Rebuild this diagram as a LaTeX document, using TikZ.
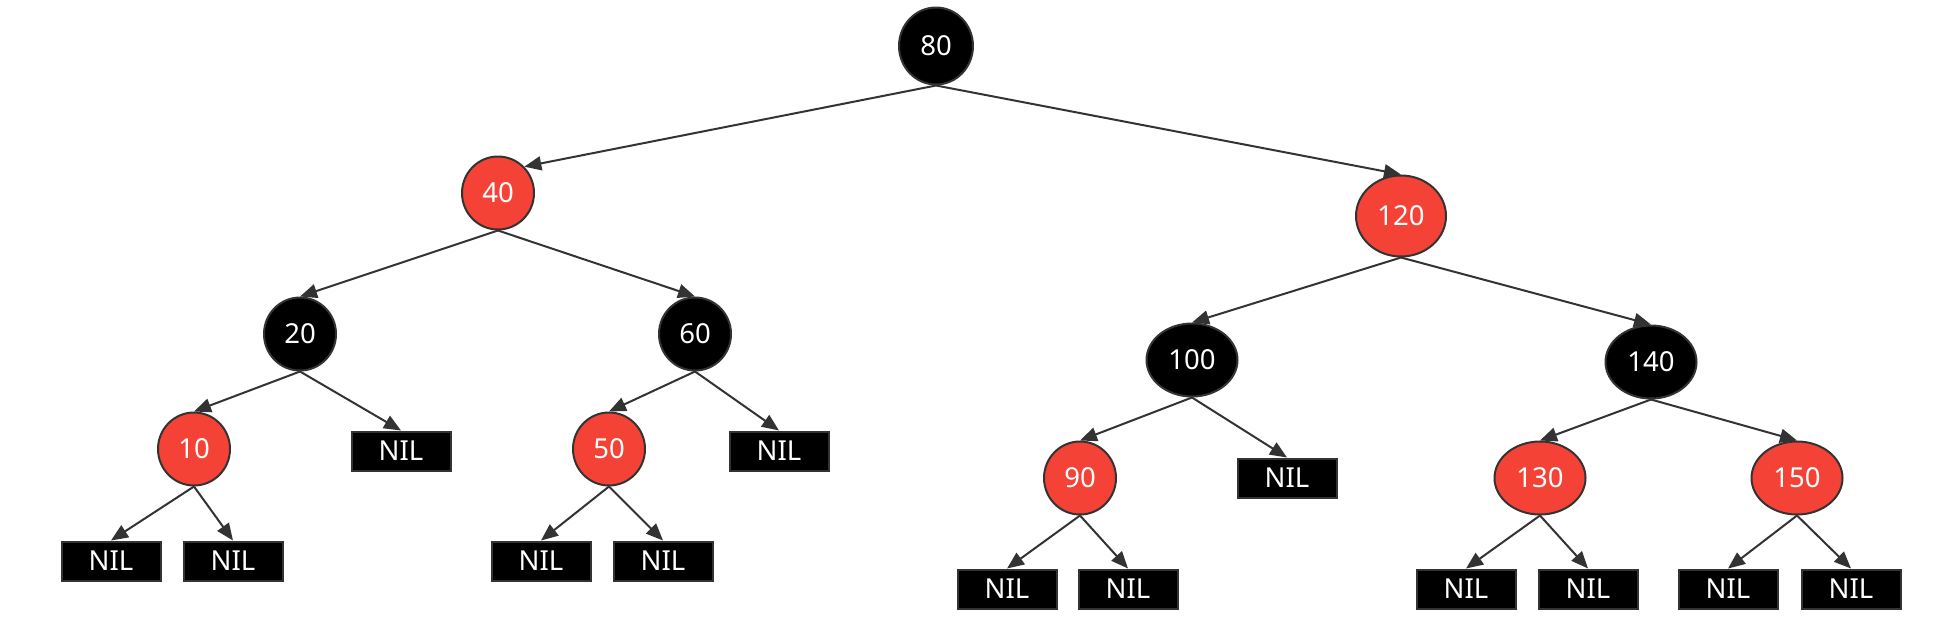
\documentclass[tikz,border=0pt]{standalone}
\usepackage{fontspec}
\setmainfont{Noto Sans}
\usetikzlibrary{arrows.meta,shapes.geometric}
\definecolor{rbred}{HTML}{F44336}
\definecolor{edgegray}{HTML}{333333}
\begin{document}
\begin{tikzpicture}[x=1pt,y=-1pt,
  base/.style={ellipse, draw=edgegray, line width=2pt, inner sep=0pt, text=white,
    font=\fontsize{27.5}{32}\selectfont, minimum width=72pt, minimum height=73pt},
  rednode/.style={base, fill=rbred},
  blknode/.style={base, fill=black},
  three/.style={minimum width=91pt, minimum height=73pt},
  nilbox/.style={rectangle, draw=edgegray, line width=2pt, fill=black, text=white,
    minimum width=99pt, minimum height=39pt, inner sep=0pt, font=\fontsize{27.5}{32}\selectfont},
  link/.style={draw=edgegray, line width=2pt, -{Triangle[length=17pt,width=14pt]}}
]
\useasboundingbox (0,0) rectangle (1939,619);

% level 0
\node[blknode, minimum width=74pt, minimum height=77pt] (n80) at (936,46) {80};
% level 1
\node[rednode] (n40) at (498,193) {40};
\node[rednode, minimum width=90pt, minimum height=81pt] (n120) at (1401,216) {120};
% level 2
\node[blknode] (n20) at (300,334) {20};
\node[blknode] (n60) at (695,334) {60};
\node[blknode, three] (n100) at (1192,360) {100};
\node[blknode, three] (n140) at (1651,362) {140};
% level 3
\node[rednode] (n10) at (194,449) {10};
\node[nilbox] (nilA) at (401,451) {NIL};
\node[rednode] (n50) at (609,449) {50};
\node[nilbox] (nilB) at (779,451) {NIL};
\node[rednode] (n90) at (1080,478) {90};
\node[nilbox] (nilC) at (1287,478) {NIL};
\node[rednode, three] (n130) at (1540,478) {130};
\node[rednode, three] (n150) at (1797,478) {150};
% level 4
\node[nilbox] (nil1) at (111,561) {NIL};
\node[nilbox] (nil2) at (233,561) {NIL};
\node[nilbox] (nil3) at (541,561) {NIL};
\node[nilbox] (nil4) at (663,561) {NIL};
\node[nilbox] (nil5) at (1007,589) {NIL};
\node[nilbox] (nil6) at (1128,589) {NIL};
\node[nilbox] (nil7) at (1466,589) {NIL};
\node[nilbox] (nil8) at (1588,589) {NIL};
\node[nilbox] (nil9) at (1728,589) {NIL};
\node[nilbox] (nil10) at (1851,589) {NIL};

% edges
\draw[link] (n80.south) -- (n40.45);
\draw[link] (n80.south) -- (n120.north);
\draw[link] (n40.south) -- (n20.north);
\draw[link] (n40.south) -- (n60.north);
\draw[link] (n120.south) -- (n100.north);
\draw[link] (n120.south) -- (n140.north);
\draw[link] (n20.south) -- (n10.north);
\draw[link] (n20.south) -- (nilA.north);
\draw[link] (n60.south) -- (n50.north);
\draw[link] (n60.south) -- (nilB.north);
\draw[link] (n100.south) -- (n90.north);
\draw[link] (n100.south) -- (nilC.north);
\draw[link] (n140.south) -- (n130.north);
\draw[link] (n140.south) -- (n150.north);
\draw[link] (n10.south) -- (nil1.north);
\draw[link] (n10.south) -- (nil2.north);
\draw[link] (n50.south) -- (nil3.north);
\draw[link] (n50.south) -- (nil4.north);
\draw[link] (n90.south) -- (nil5.north);
\draw[link] (n90.south) -- (nil6.north);
\draw[link] (n130.south) -- (nil7.north);
\draw[link] (n130.south) -- (nil8.north);
\draw[link] (n150.south) -- (nil9.north);
\draw[link] (n150.south) -- (nil10.north);
\end{tikzpicture}
\end{document}
